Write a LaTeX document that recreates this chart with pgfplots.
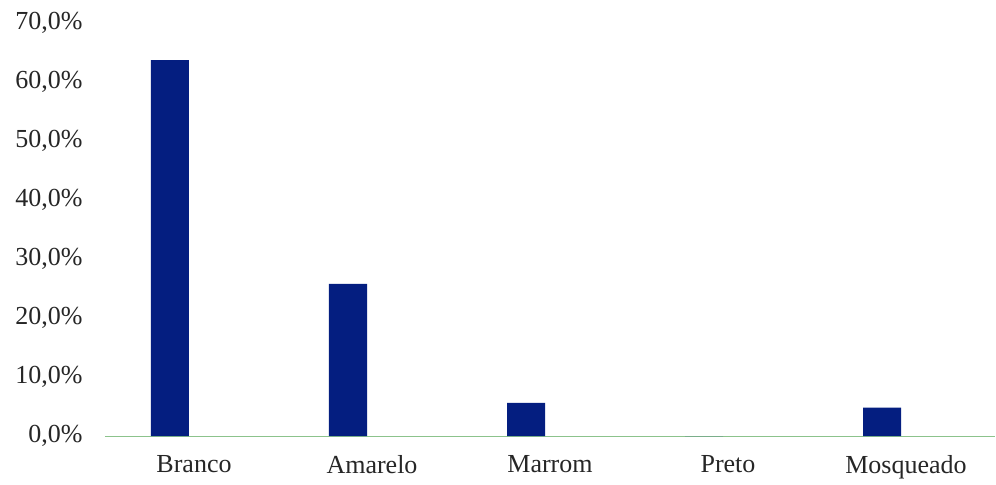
\documentclass[border=0pt]{standalone}
\usepackage{pgfplots}
\pgfplotsset{compat=1.18}
\usepackage{fontspec}
\setmainfont{Liberation Serif}
\definecolor{barnavy}{RGB}{4,30,128}
\definecolor{axgreen}{RGB}{140,195,140}
\begin{document}
\begin{tikzpicture}[x=1bp,y=1bp]
\begin{axis}[
  at={(0,0)}, anchor=south west,
  scale only axis,
  width=890bp, height=413bp,
  xmin=-0.5, xmax=4.5,
  ymin=0, ymax=70,
  axis lines*=left,
  x axis line style={axgreen, line width=1bp},
  y axis line style={draw=none},
  major tick length=0pt,
  xtick={0,1,2,3,4},
  xticklabels={Branco,Amarelo,Marrom,Preto,Mosqueado},
  ytick={0,10,20,30,40,50,60,70},
  yticklabels={{0,0\%},{10,0\%},{20,0\%},{30,0\%},{40,0\%},{50,0\%},{60,0\%},{70,0\%}},
  ticklabel style={font=\fontsize{26bp}{30bp}\selectfont, text=black!85},
  yticklabel style={xshift=-19bp},
  xticklabel style={yshift=-16bp},
  ybar, bar width=38bp, bar shift=-24bp,
  clip=false,
]
\addplot[fill=barnavy, draw=none] coordinates {(0,63.7) (1,25.8) (2,5.6) (3,0) (4,4.8)};
\end{axis}
\pgfresetboundingbox
\path (-105bp,-49bp) rectangle (891bp,436bp);
\end{tikzpicture}
\end{document}
